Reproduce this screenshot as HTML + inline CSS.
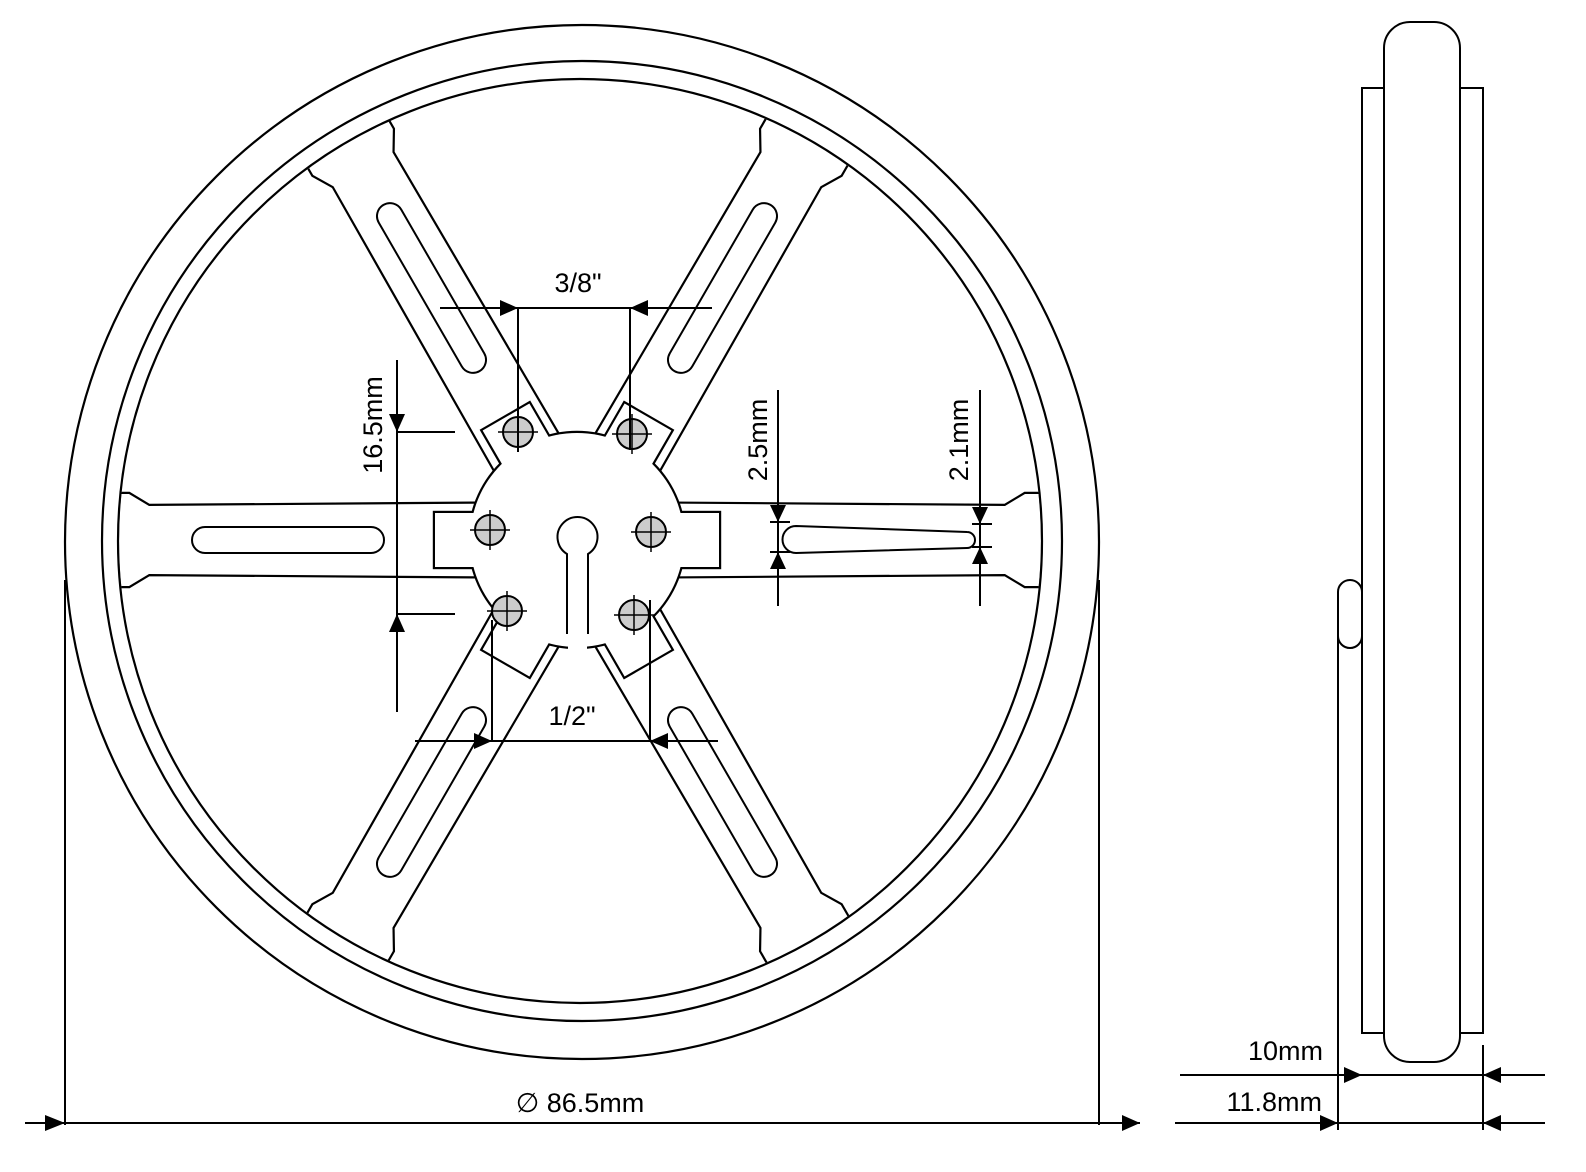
<!DOCTYPE html>
<html><head><style>html,body{margin:0;padding:0;background:#fff}svg{display:block}text{font-family:"Liberation Sans",sans-serif;fill:#000}</style></head>
<body>
<svg width="1586" height="1172" viewBox="0 0 1586 1172" xmlns="http://www.w3.org/2000/svg">
<defs>
<clipPath id="rim"><circle cx="3" cy="1" r="461"/></clipPath>
<polygon id="sp" points="0,-37 428,-34 448,-46 500,-46 500,46 448,46 428,34 0,37"/>
<rect id="tab" x="90" y="-27" width="52" height="54"/>
</defs>
<g fill="none" stroke="#000" stroke-width="2.2">
<circle cx="582" cy="542" r="517"/>
<circle cx="582" cy="541" r="480"/>
</g>
<!-- spokes -->
<g transform="translate(577,540)">
<g clip-path="url(#rim)">
<g stroke="#000" stroke-width="4.4" fill="#000">
<use href="#sp"/><use href="#sp" transform="rotate(60)"/><use href="#sp" transform="rotate(120)"/><use href="#sp" transform="rotate(180)"/><use href="#sp" transform="rotate(240)"/><use href="#sp" transform="rotate(300)"/>
</g>
<g fill="#fff">
<use href="#sp"/><use href="#sp" transform="rotate(60)"/><use href="#sp" transform="rotate(120)"/><use href="#sp" transform="rotate(180)"/><use href="#sp" transform="rotate(240)"/><use href="#sp" transform="rotate(300)"/>
</g>
</g>
</g>
<circle cx="580" cy="541" r="462" fill="none" stroke="#000" stroke-width="2.2"/>
<!-- slots -->
<g fill="none" stroke="#000" stroke-width="2" transform="translate(577,540)">
<rect x="-385" y="-13" width="192" height="26" rx="13"/>
<rect x="195" y="-13" width="192" height="26" rx="13" transform="rotate(-120)"/>
<rect x="195" y="-13" width="192" height="26" rx="13" transform="rotate(-60)"/>
<rect x="195" y="-13" width="192" height="26" rx="13" transform="rotate(120)"/>
<rect x="195" y="-13" width="192" height="26" rx="13" transform="rotate(60)"/>
<path d="M219,-14 L390,-8 A8,8 0 0 1 390,8 L219,13 A13.5,13.5 0 0 1 219,-14 Z"/>
</g>
<!-- hub -->
<g transform="translate(577,540)">
<g stroke="#000" stroke-width="4.4" fill="#000">
<circle r="107"/>
<use href="#tab"/><use href="#tab" transform="rotate(60)"/><use href="#tab" transform="rotate(120)"/><use href="#tab" transform="rotate(180)"/><use href="#tab" transform="rotate(240)"/><use href="#tab" transform="rotate(300)"/>
</g>
<g fill="#fff">
<circle r="107"/>
<use href="#tab"/><use href="#tab" transform="rotate(60)"/><use href="#tab" transform="rotate(120)"/><use href="#tab" transform="rotate(180)"/><use href="#tab" transform="rotate(240)"/><use href="#tab" transform="rotate(300)"/>
</g>
</g>
<!-- keyhole -->
<rect x="568" y="600" width="19" height="50" fill="#fff"/>
<path d="M567,634 L567,554 A20,20 0 1 1 588,554 L588,634" fill="#fff" stroke="#000" stroke-width="2"/>
<!-- bolts -->
<g stroke="#000" stroke-width="2">
<g fill="#ccc">
<circle cx="518" cy="432" r="15"/><circle cx="632" cy="434" r="15"/><circle cx="490" cy="530" r="15"/><circle cx="651" cy="532" r="15"/><circle cx="507" cy="611" r="15"/><circle cx="634" cy="615" r="15"/>
</g>
<path d="M498,432h40M518,412v40M612,434h40M632,414v40M470,530h40M490,510v40M631,532h40M651,512v40M487,611h40M507,591v40M614,615h40M634,595v40" stroke-width="1.5"/>
</g>
<!-- dimensions main -->
<g stroke="#000" stroke-width="2" fill="none">
<path d="M25,1123H1140M65,580V1125M1099,580V1125"/>
<path d="M440,308H712M518,308V452M630,308V450"/>
<path d="M415,741H718M492,620V741M650,600V741"/>
<path d="M397,360V712M397,432H455M397,614H455"/>
<path d="M778,390V606M770,522H790M770,552H790"/>
<path d="M980,390V606M972,524H992M972,547H992"/>
</g>
<g fill="#000">
<polygon points="65,1123 45,1115 45,1131"/>
<polygon points="1140,1123 1122,1115 1122,1131"/>
<polygon points="518,308 500,300 500,316"/>
<polygon points="630,308 648,300 648,316"/>
<polygon points="492,741 474,733 474,749"/>
<polygon points="650,741 668,733 668,749"/>
<polygon points="397,432 389,414 405,414"/>
<polygon points="397,614 389,632 405,632"/>
<polygon points="778,522 770,505 786,505"/>
<polygon points="778,552 770,569 786,569"/>
<polygon points="980,524 972,507 988,507"/>
<polygon points="980,547 972,564 988,564"/>
</g>
<g font-size="27">
<text x="578" y="292" text-anchor="middle">3/8"</text>
<text x="572" y="725" text-anchor="middle">1/2"</text>
<text x="580" y="1112" text-anchor="middle">∅ 86.5mm</text>
<text transform="translate(382,425) rotate(-90)" text-anchor="middle">16.5mm</text>
<text transform="translate(767,440) rotate(-90)" text-anchor="middle">2.5mm</text>
<text transform="translate(968,440) rotate(-90)" text-anchor="middle">2.1mm</text>
<text x="1323" y="1060" text-anchor="end">10mm</text>
<text x="1322" y="1111" text-anchor="end">11.8mm</text>
</g>
<!-- side view -->
<g stroke="#000" stroke-width="2" fill="#fff">
<rect x="1362" y="88" width="121" height="945"/>
<rect x="1384" y="22" width="76" height="1040" rx="26"/>
<rect x="1338" y="580" width="24" height="68" rx="12"/>
<path d="M1338,600V1130M1483,1045V1130" fill="none"/>
<path d="M1180,1075H1545M1175,1123H1545" fill="none"/>
</g>
<g fill="#000">
<polygon points="1362,1075 1344,1067 1344,1083"/>
<polygon points="1483,1075 1501,1067 1501,1083"/>
<polygon points="1338,1123 1320,1115 1320,1131"/>
<polygon points="1483,1123 1501,1115 1501,1131"/>
</g>
</svg>
</body></html>
